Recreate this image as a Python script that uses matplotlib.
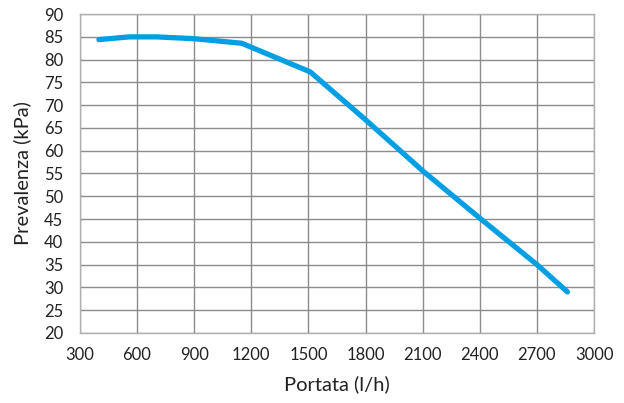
import matplotlib
matplotlib.use("Agg")
import matplotlib.pyplot as plt

# === Data ===
portata = [400, 560, 700, 900, 1150, 1510, 1800, 2100, 2400, 2700, 2860]
prevalenza = [84.4, 85.0, 85.0, 84.6, 83.6, 77.3, 66.8, 55.6, 45.2, 35.0, 29.0]

x_ticks = list(range(300, 3001, 300))
y_ticks = list(range(20, 91, 5))

plt.rcParams['font.family'] = ['Lato', 'DejaVu Sans']

# === Plotting ===
fig = plt.figure(figsize=(6.24, 4.03), dpi=100)
ax = fig.add_axes([0.128, 0.174, 0.824, 0.791])

ax.plot(portata, prevalenza, color='#009fe3', linewidth=3.8,
        solid_capstyle='round', solid_joinstyle='round', zorder=3)

ax.set_xlim(300, 3000)
ax.set_ylim(20, 90)
ax.set_xticks(x_ticks)
ax.set_yticks(y_ticks)
ax.grid(True, color='#8c8c8c', linewidth=1.0)
for s in ax.spines.values():
    s.set_color('#b0b0b0')
    s.set_linewidth(1.0)
ax.tick_params(length=0, labelsize=12, colors='#222222')
ax.tick_params(axis='x', pad=10)
ax.tick_params(axis='y', pad=12)

ax.set_xlabel("Portata (l/h)", fontsize=14.5, color='#222222', labelpad=9)
ax.set_ylabel("Prevalenza (kPa)", fontsize=14.5, color='#222222', labelpad=9)

fig.savefig("out.png", dpi=100)
